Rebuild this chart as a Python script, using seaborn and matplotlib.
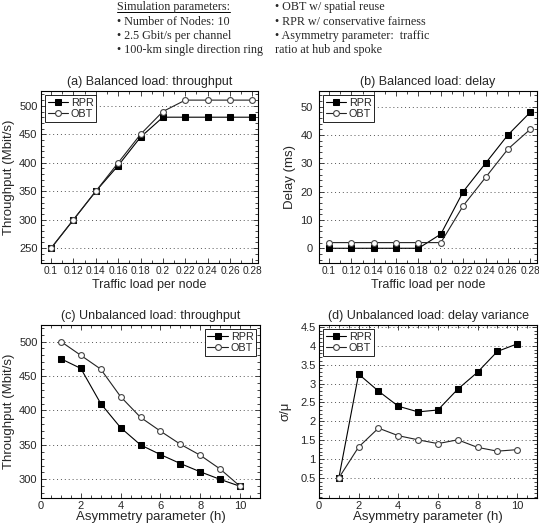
import numpy as np
import pandas as pd
import seaborn as sns
import matplotlib.pyplot as plt
from matplotlib.lines import Line2D
from matplotlib.ticker import MultipleLocator

# data
load = [0.1, 0.12, 0.14, 0.16, 0.18, 0.2, 0.22, 0.24, 0.26, 0.28]
thr_rpr = [250, 300, 350, 395, 445, 480, 480, 480, 480, 480]
thr_obt = [250, 300, 350, 400, 450, 490, 510, 510, 510, 510]
delay_rpr = [0, 0, 0, 0, 0, 5, 20, 30, 40, 48]
delay_obt = [2, 2, 2, 2, 2, 2, 15, 25, 35, 42]

asym = [1, 2, 3, 4, 5, 6, 7, 8, 9, 10]
ub_thr_rpr = [475, 461, 410, 375, 350, 336, 323, 311, 300, 290]
ub_thr_obt = [500, 480, 460, 420, 390, 370, 351, 335, 315, 290]
var_rpr = [0.5, 3.25, 2.8, 2.4, 2.25, 2.3, 2.85, 3.3, 3.85, 4.05]
var_obt = [0.5, 1.32, 1.82, 1.62, 1.51, 1.41, 1.51, 1.31, 1.21, 1.25]

load_ticks = [0.1, 0.12, 0.14, 0.16, 0.18, 0.2, 0.22, 0.24, 0.26, 0.28]
load_ticklabels = ['0.1', '0.12', '0.14', '0.16', '0.18', '0.2', '0.22', '0.24', '0.26', '0.28']
asym_ticks = [0, 2, 4, 6, 8, 10]
thr_ticks = [250, 300, 350, 400, 450, 500]
delay_ticks = [0, 10, 20, 30, 40, 50]
ub_thr_ticks = [300, 350, 400, 450, 500]
var_ticks = [0.5, 1, 1.5, 2, 2.5, 3, 3.5, 4, 4.5]
var_ticklabels = ['0.5', '1', '1.5', '2', '2.5', '3', '3.5', '4', '4.5']

sns.set_style("ticks")
plt.rcParams['font.family'] = ['Liberation Sans', 'DejaVu Sans']
plt.rcParams['xtick.direction'] = 'in'
plt.rcParams['ytick.direction'] = 'in'
plt.rcParams['axes.linewidth'] = 0.8

fig = plt.figure(figsize=(5.39, 5.25), dpi=100)

W, H = 539, 525
def box(l, t, r, b):
    return [l / W, 1 - b / H, (r - l) / W, (b - t) / H]

ax_a = fig.add_axes(box(41, 91, 258, 263))
ax_b = fig.add_axes(box(319, 91, 537, 263))
ax_c = fig.add_axes(box(41, 325, 260, 498))
ax_d = fig.add_axes(box(319, 325, 537, 498))


def draw(ax, x, rpr, obt, loc):
    df = pd.DataFrame({'x': x, 'RPR': rpr, 'OBT': obt})
    sns.lineplot(data=df, x='x', y='RPR', ax=ax, color='black', lw=0.8,
                 marker='s', markersize=4.5, markerfacecolor='black',
                 markeredgecolor='black', label='RPR')
    sns.lineplot(data=df, x='x', y='OBT', ax=ax, color='#222222', lw=0.8,
                 marker='o', markersize=4.2, markerfacecolor='white',
                 markeredgecolor='#444444', markeredgewidth=0.8, label='OBT')
    leg = ax.legend(loc=loc, fontsize=7.8, handlelength=1.9, handletextpad=0.25,
                    borderpad=0.25, labelspacing=0.12, borderaxespad=0.35,
                    fancybox=False, framealpha=1)
    leg.get_frame().set_edgecolor('black')
    leg.get_frame().set_linewidth(0.6)
    ax.grid(axis='y', which='major', linestyle=(0, (1, 3)), color='#555555', lw=0.7)
    ax.tick_params(which='both', top=True, right=True, labelsize=8, width=0.6)
    ax.tick_params(which='major', length=3.5, pad=2.5)
    ax.tick_params(which='minor', length=2)
    for s in ax.spines.values():
        s.set_color('black')


draw(ax_a, load, thr_rpr, thr_obt, 'upper left')
ax_a.set_xlim(0.091, 0.285)
ax_a.set_ylim(224, 526)
ax_a.set_xticks(load_ticks, load_ticklabels)
ax_a.set_yticks(thr_ticks)
ax_a.xaxis.set_minor_locator(MultipleLocator(0.01))
ax_a.yaxis.set_minor_locator(MultipleLocator(10))
ax_a.tick_params(axis='x', labelsize=7.3)
ax_a.set_title('(a) Balanced load: throughput', fontsize=9, pad=4)
ax_a.set_xlabel('Traffic load per node', fontsize=9, labelpad=1.5)
ax_a.set_ylabel('Throughput (Mbit/s)', fontsize=9.5, labelpad=3)

draw(ax_b, load, delay_rpr, delay_obt, 'upper left')
ax_b.set_xlim(0.091, 0.286)
ax_b.set_ylim(-5.2, 55.5)
ax_b.set_xticks(load_ticks, load_ticklabels)
ax_b.set_yticks(delay_ticks)
ax_b.xaxis.set_minor_locator(MultipleLocator(0.01))
ax_b.yaxis.set_minor_locator(MultipleLocator(2))
ax_b.tick_params(axis='x', labelsize=7.3)
ax_b.tick_params(axis='y', which='major', pad=4.5)
ax_b.set_title('(b) Balanced load: delay', fontsize=9, pad=4)
ax_b.set_xlabel('Traffic load per node', fontsize=9, labelpad=1.5)
ax_b.set_ylabel('Delay (ms)', fontsize=9.5, labelpad=3)

draw(ax_c, asym, ub_thr_rpr, ub_thr_obt, 'upper right')
ax_c.set_xlim(0, 11)
ax_c.set_ylim(273, 524)
ax_c.set_xticks(asym_ticks)
ax_c.set_yticks(ub_thr_ticks)
ax_c.xaxis.set_minor_locator(MultipleLocator(0.5))
ax_c.yaxis.set_minor_locator(MultipleLocator(10))
ax_c.set_title('(c) Unbalanced load: throughput', fontsize=9, pad=4)
ax_c.set_xlabel('Asymmetry parameter (h)', fontsize=9.5, labelpad=0)
ax_c.set_ylabel('Throughput (Mbit/s)', fontsize=9.5, labelpad=3)

draw(ax_d, asym, var_rpr, var_obt, 'upper left')
ax_d.set_xlim(0, 11)
ax_d.set_ylim(-0.03, 4.55)
ax_d.set_xticks(asym_ticks)
ax_d.set_yticks(var_ticks, var_ticklabels)
ax_d.xaxis.set_minor_locator(MultipleLocator(0.5))
ax_d.yaxis.set_minor_locator(MultipleLocator(0.1))
ax_d.set_title('(d) Unbalanced load: delay variance', fontsize=9, pad=4)
ax_d.set_xlabel('Asymmetry parameter (h)', fontsize=9.5, labelpad=0)
ax_d.set_ylabel('σ/μ', fontsize=9.5, labelpad=6)

# simulation parameter notes
serif = ['Liberation Serif', 'DejaVu Serif']
left_lines = ['Simulation parameters:', '• Number of Nodes: 10',
              '• 2.5 Gbit/s per channel', '• 100-km single direction ring']
right_lines = ['• OBT w/ spatial reuse', '• RPR w/ conservative fairness',
               '• Asymmetry parameter:  traffic', 'ratio at hub and spoke']
ys = [7, 22, 36, 50]
texts = []
for txt, y in zip(left_lines, ys):
    texts.append(fig.text(117 / W, 1 - y / H, txt, family=serif, fontsize=8.7, va='center'))
for txt, y in zip(right_lines, ys):
    fig.text(275 / W, 1 - y / H, txt, family=serif, fontsize=8.7, va='center')

fig.canvas.draw()
bb = texts[0].get_window_extent().transformed(fig.transFigure.inverted())
fig.add_artist(Line2D([bb.x0, bb.x1], [bb.y0 + 0.002, bb.y0 + 0.002],
                      transform=fig.transFigure, color='black', lw=0.7))

fig.savefig('out.png', dpi=100)
